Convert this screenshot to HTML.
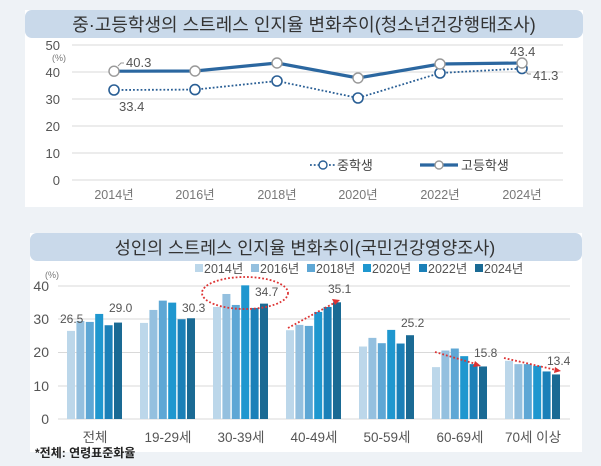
<!DOCTYPE html>
<html><head><meta charset="utf-8"><style>
html,body{margin:0;padding:0;background:#eef2f6;}
svg{display:block;font-family:"Liberation Sans","Noto Sans CJK KR",sans-serif;}
</style></head><body>
<svg width="601" height="466" viewBox="0 0 601 466" xmlns="http://www.w3.org/2000/svg">
<rect width="601" height="466" fill="#eef2f6"/>
<rect x="25" y="10" width="558" height="197" fill="#fff"/>
<rect x="25" y="10" width="558" height="28" rx="7" fill="#c9d9ea"/>
<text x="304" y="31" font-size="18" text-anchor="middle" fill="#333">중·고등학생의 스트레스 인지율 변화추이(청소년건강행태조사)</text>
<g stroke="#d9d9d9" stroke-width="1">
<line x1="72" y1="45" x2="563" y2="45"/><line x1="72" y1="72" x2="563" y2="72"/><line x1="72" y1="99" x2="563" y2="99"/>
<line x1="72" y1="126" x2="563" y2="126"/><line x1="72" y1="153" x2="563" y2="153"/><line x1="72" y1="180" x2="563" y2="180"/>
</g>
<g font-size="13" fill="#555" text-anchor="end">
<text x="60" y="50">50</text><text x="60" y="77">40</text><text x="60" y="104">30</text><text x="60" y="131">20</text><text x="60" y="158">10</text><text x="60" y="185">0</text>
</g>
<text x="52" y="61" font-size="9" fill="#777">(%)</text>
<g font-size="12.5" fill="#777" text-anchor="middle">
<text x="114" y="199">2014년</text><text x="195" y="199">2016년</text><text x="277" y="199">2018년</text><text x="358" y="199">2020년</text><text x="440" y="199">2022년</text><text x="522" y="199">2024년</text>
</g>
<polyline points="114,90 195,89.6 277,81 358,98 440,73 522,68.5" fill="none" stroke="#2a5f95" stroke-width="1.8" stroke-dasharray="1.8,2"/>
<polyline points="114,71.2 195,71 277,63 358,78 440,64 522,63" fill="none" stroke="#2b67a0" stroke-width="3.2"/>
<g fill="#fff" stroke="#2a5f95" stroke-width="1.6">
<circle cx="114" cy="90" r="5"/><circle cx="195" cy="89.6" r="5"/><circle cx="277" cy="81" r="5"/><circle cx="358" cy="98" r="5"/><circle cx="440" cy="73" r="5"/><circle cx="522" cy="68.5" r="5"/>
</g>
<g fill="#fff" stroke="#999" stroke-width="1.4">
<circle cx="114" cy="71.2" r="5"/><circle cx="195" cy="71" r="5"/><circle cx="277" cy="63" r="5"/><circle cx="358" cy="78" r="5"/><circle cx="440" cy="64" r="5"/><circle cx="522" cy="63" r="5"/>
</g>
<g font-size="13" fill="#555">
<text x="126" y="67">40.3</text><text x="119" y="111">33.4</text><text x="510" y="56">43.4</text><text x="533" y="80">41.3</text>
</g>
<path d="M118,66 l3,-3 h3" fill="none" stroke="#999"/>
<path d="M525,71 l3,3 h3" fill="none" stroke="#999"/>
<line x1="310" y1="165" x2="335" y2="165" stroke="#2a5f95" stroke-width="1.8" stroke-dasharray="1.8,2"/>
<circle cx="323" cy="165" r="4" fill="#fff" stroke="#2a5f95" stroke-width="1.4"/>
<text x="337" y="170" font-size="13" fill="#444">중학생</text>
<line x1="420" y1="165" x2="458" y2="165" stroke="#2b67a0" stroke-width="3.2"/>
<circle cx="439" cy="165" r="4" fill="#fff" stroke="#999" stroke-width="1.4"/>
<text x="461" y="170" font-size="13" fill="#444">고등학생</text>

<rect x="30" y="233" width="552" height="219" fill="#fff"/>
<rect x="30" y="233" width="552" height="28" rx="7" fill="#c9d9ea"/>
<text x="305" y="254" font-size="17.5" text-anchor="middle" fill="#333">성인의 스트레스 인지율 변화추이(국민건강영양조사)</text>
<g stroke="#d9d9d9" stroke-width="1">
<line x1="58" y1="286" x2="570" y2="286"/><line x1="58" y1="319" x2="570" y2="319"/><line x1="58" y1="352.5" x2="570" y2="352.5"/><line x1="58" y1="386" x2="570" y2="386"/><line x1="58" y1="419" x2="570" y2="419"/>
</g>
<g font-size="14" fill="#555" text-anchor="end">
<text x="49" y="291">40</text><text x="49" y="324">30</text><text x="49" y="357">20</text><text x="49" y="391">10</text><text x="49" y="424">0</text>
</g>
<text x="45" y="278" font-size="9" fill="#777">(%)</text>
<g font-size="12.5" fill="#555">
<rect x="195" y="264" width="8" height="8" fill="#bcd7ea"/><text x="204" y="273">2014년</text>
<rect x="251" y="264" width="8" height="8" fill="#94c0df"/><text x="260" y="273">2016년</text>
<rect x="307" y="264" width="8" height="8" fill="#5ea7d5"/><text x="316" y="273">2018년</text>
<rect x="363" y="264" width="8" height="8" fill="#1f97cf"/><text x="372" y="273">2020년</text>
<rect x="419" y="264" width="8" height="8" fill="#1b80b8"/><text x="428" y="273">2022년</text>
<rect x="475" y="264" width="8" height="8" fill="#1a6a94"/><text x="484" y="273">2024년</text>
</g>
<g id="bars"></g>
<g font-size="13.5" fill="#555" text-anchor="middle">
<text x="95" y="442">전체</text><text x="168" y="442">19-29세</text><text x="241" y="442">30-39세</text><text x="314" y="442">40-49세</text><text x="387" y="442">50-59세</text><text x="460" y="442">60-69세</text><text x="533" y="442">70세 이상</text>
</g>
<text x="35" y="457" font-size="12" fill="#222" font-weight="bold">*전체: 연령표준화율</text>
<g font-size="12" fill="#555">
<text x="60" y="323">26.5</text><text x="109" y="312">29.0</text><text x="182" y="312">30.3</text><text x="255" y="296">34.7</text><text x="328" y="293">35.1</text><text x="401" y="327">25.2</text><text x="474" y="357">15.8</text><text x="547" y="365">13.4</text>
</g>
<ellipse cx="245" cy="293" rx="43" ry="16" fill="none" stroke="#d33" stroke-width="1.8" stroke-dasharray="1.8,2"/>
<g stroke="#d33" stroke-width="1.8" stroke-dasharray="1.8,2" fill="none">
<line x1="288" y1="328" x2="336" y2="302"/><line x1="435" y1="352" x2="476" y2="364"/><line x1="504" y1="358" x2="556" y2="370"/>
</g>
<g fill="#d33"><path d="M340,300 l-8,-1 l3,6z"/><path d="M481,366 l-6,-5 l-2,6z"/><path d="M561,371 l-6,-4 l-1,6z"/></g>
</svg>
<script>
var d=[[26.5,29.5,29.2,31.6,28.2,29.0],[28.9,32.8,35.6,35.0,30.0,30.3],[33.7,37.6,34.3,40.2,33.4,34.7],[26.7,28.3,28.0,32.2,33.7,35.1],[21.8,24.4,22.8,26.8,22.7,25.2],[15.6,20.6,21.2,18.9,16.5,15.8],[17.5,16.5,16.5,16.0,14.3,13.4]];
var c=["#bcd7ea","#94c0df","#5ea7d5","#1f97cf","#1b80b8","#1a6a94"];
var g=document.getElementById("bars"),s="";
for(var i=0;i<7;i++){var x0=67+i*73;for(var j=0;j<6;j++){var h=d[i][j]*3.325;s+='<rect x="'+(x0+j*9.4)+'" y="'+(419-h)+'" width="8" height="'+h+'" fill="'+c[j]+'"/>';}}
g.innerHTML=s;
</script>
</body></html>
